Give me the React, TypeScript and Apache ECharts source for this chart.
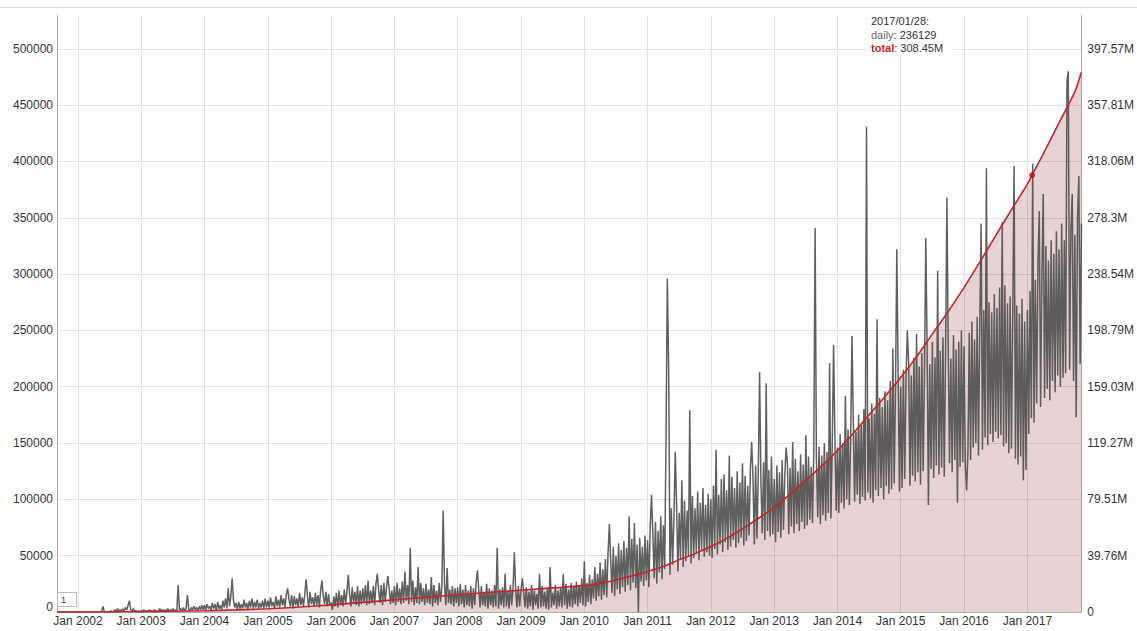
import React, { useEffect, useRef } from "react";
import * as echarts from "echarts";

// ---------- DATA ----------
// Daily downloads, in thousands, ~every 7.6 days (48 readings per year),
// upper / lower readings of the noisy daily band plus the visible spikes.
const daily2001 = [0, 0, 0, 0, 0, 0, 0, 0, 0, 0, 0, 0, 0, 0, 0, 0]; // from Sep 2001
const daily2002 = [0, 0, 0, 0, 0, 0, 0, 0, 0, 0, 0, 0, 0, 0, 0, 0, 0, 0, 1, 5, 0, 0, 0, 0, 0, 1, 0, 0, 2, 0, 3, 1, 2, 1, 3, 1, 4, 2, 6, 10, 2, 1, 3, 1, 1, 0, 1, 0];
const daily2003 = [1, 0, 2, 0, 1, 0, 2, 1, 1, 0, 2, 0, 1, 0, 3, 1, 2, 1, 2, 0, 3, 1, 2, 1, 3, 1, 2, 1, 24, 2, 3, 1, 4, 1, 3, 15, 3, 1, 4, 2, 5, 2, 4, 1, 5, 2, 6, 2];
const daily2004 = [6, 2, 7, 3, 5, 2, 8, 3, 7, 1, 9, 3, 6, 2, 10, 4, 12, 3, 21, 5, 14, 30, 10, 4, 8, 2, 9, 3, 7, 3, 11, 4, 8, 2, 10, 4, 12, 3, 9, 4, 11, 3, 8, 4, 10, 3, 12, 4];
const daily2005 = [10, 4, 13, 5, 9, 3, 14, 5, 11, 4, 15, 6, 12, 4, 16, 21, 11, 5, 15, 3, 14, 6, 12, 4, 17, 6, 13, 5, 16, 29, 14, 4, 18, 7, 13, 5, 17, 6, 15, 4, 19, 28, 14, 7, 18, 5, 16, 6];
const daily2006 = [8, 2, 14, 5, 17, 4, 19, 6, 15, 5, 20, 7, 18, 33, 16, 5, 22, 8, 18, 6, 23, 5, 19, 7, 21, 8, 24, 6, 28, 7, 19, 8, 23, 6, 25, 34, 20, 8, 24, 6, 26, 9, 22, 32, 21, 7, 19, 8];
const daily2007 = [23, 6, 26, 9, 21, 7, 27, 8, 36, 10, 24, 7, 57, 9, 28, 6, 22, 8, 40, 7, 26, 9, 21, 6, 25, 8, 20, 7, 31, 5, 24, 8, 19, 6, 26, 9, 22, 90, 25, 6, 39, 8, 20, 7, 23, 5, 21, 8];
const daily2008 = [22, 5, 25, 7, 20, 4, 24, 6, 19, 5, 23, 3, 21, 6, 26, 37, 20, 4, 23, 6, 18, 5, 25, 3, 21, 6, 19, 4, 24, 5, 57, 3, 20, 6, 22, 4, 34, 5, 19, 3, 24, 6, 21, 53, 20, 4, 23, 5];
const daily2009 = [20, 30, 17, 4, 22, 3, 18, 5, 24, 2, 19, 6, 16, 3, 34, 4, 23, 5, 18, 3, 21, 2, 40, 4, 17, 6, 24, 3, 19, 5, 22, 4, 34, 6, 25, 3, 20, 5, 26, 4, 23, 7, 27, 5, 24, 8, 30, 6];
const daily2010 = [45, 5, 26, 9, 33, 7, 29, 12, 40, 10, 34, 14, 44, 11, 38, 15, 47, 13, 52, 78, 46, 17, 58, 14, 50, 20, 61, 16, 55, 22, 63, 18, 57, 24, 85, 19, 65, 26, 79, 21, 60, 0, 66, 27, 58, 23, 68, 28];
const daily2011 = [64, 22, 75, 104, 70, 30, 80, 25, 72, 35, 85, 29, 77, 38, 155, 296, 216, 33, 92, 42, 84, 142, 95, 36, 88, 47, 117, 40, 99, 45, 90, 50, 179, 43, 103, 48, 92, 52, 107, 46, 97, 55, 110, 49, 95, 53, 105, 50];
const daily2012 = [100, 48, 112, 56, 144, 51, 104, 60, 118, 53, 122, 62, 108, 55, 139, 58, 120, 64, 110, 57, 125, 61, 115, 66, 132, 59, 121, 63, 112, 68, 127, 151, 118, 60, 130, 65, 124, 213, 116, 70, 133, 64, 203, 72, 126, 67, 138, 69];
const daily2013 = [118, 62, 130, 71, 124, 66, 135, 73, 121, 146, 132, 69, 128, 76, 151, 70, 136, 78, 125, 72, 140, 80, 131, 74, 157, 77, 138, 82, 129, 79, 143, 341, 135, 84, 147, 78, 139, 86, 150, 81, 142, 88, 221, 83, 148, 237, 155, 90];
const daily2014 = [146, 88, 158, 97, 150, 92, 192, 100, 162, 95, 155, 245, 170, 98, 160, 104, 175, 96, 166, 102, 180, 99, 431, 106, 172, 101, 185, 97, 176, 108, 260, 103, 190, 110, 182, 100, 196, 112, 188, 105, 205, 109, 234, 114, 198, 322, 210, 107];
const daily2015 = [200, 110, 215, 118, 206, 250, 222, 112, 210, 121, 226, 116, 247, 124, 218, 113, 230, 125, 212, 332, 235, 95, 220, 127, 240, 119, 226, 130, 303, 122, 232, 128, 244, 120, 229, 368, 238, 132, 225, 124, 246, 135, 233, 97, 240, 129, 250, 133];
const daily2016 = [236, 130, 108, 142, 248, 135, 258, 146, 242, 150, 262, 139, 255, 345, 144, 268, 155, 394, 148, 275, 158, 266, 151, 282, 160, 270, 154, 288, 157, 346, 147, 290, 150, 274, 141, 280, 145, 268, 396, 136, 272, 131, 265, 138, 278, 117, 258, 126];
const daily2017 = [268, 158, 285, 172, 398, 168, 295, 185, 310, 356, 182, 300, 371, 190, 325, 198, 312, 188, 330, 205, 318, 195, 338, 210, 322, 200, 345, 208, 330, 212, 471, 480, 215, 340, 371, 205, 335, 173, 350, 387, 220, 345];

// Cumulative total downloads, in millions
const totalDates = [
  "2001-09-02", "2002-01-01", "2002-07-01", "2003-01-01", "2003-07-01", "2004-01-01", "2004-07-01",
  "2005-01-01", "2005-07-01", "2006-01-01", "2006-07-01", "2007-01-01", "2007-07-01", "2008-01-01",
  "2008-07-01", "2009-01-01", "2009-07-01", "2010-01-01", "2010-04-01", "2010-07-01", "2010-10-01",
  "2011-01-01", "2011-04-01", "2011-07-01", "2011-10-01", "2012-01-01", "2012-04-01", "2012-07-01",
  "2012-10-01", "2013-01-01", "2013-04-01", "2013-07-01", "2013-10-01", "2014-01-01", "2014-04-01",
  "2014-07-01", "2014-10-01", "2015-01-01", "2015-04-01", "2015-07-01", "2015-10-01", "2016-01-01",
  "2016-04-01", "2016-07-01", "2016-10-01", "2017-01-01", "2017-01-28", "2017-04-01", "2017-07-01",
  "2017-10-01", "2017-11-08",
];
const totalMillions = [
  0, 0.02, 0.1, 0.3, 0.5, 0.9, 1.5,
  2.3, 3.5, 5.0, 6.8, 8.6, 10.4, 12.2,
  13.8, 15.4, 17.0, 18.6, 20.2, 22.6, 25.4,
  28.6, 32.2, 36.8, 41.2, 46.2, 52.0, 58.8,
  66.0, 74.0, 83.0, 93.0, 103.0, 114.0, 126.0,
  139.0, 152.0, 165.5, 180.0, 196.0, 212.0, 229.0,
  247.0, 265.5, 284.0, 302.0, 308.45, 323.0, 345.0,
  367.0, 381.0,
];

// Highlighted point (legend)
const highlightLabel = "2017/01/28";
const highlightDate = "2017-01-28";
const highlightDaily = 236129;
const highlightTotalM = 308.45;

// Axes
const xMin = "2001-09-02";
const xMax = "2017-11-08";
const leftMax = 530000;
const leftInterval = 50000;
const rightInterval = 39757100;
const rightMax = (leftMax / leftInterval) * rightInterval;

// ---------- BUILD ----------
const DAY = 86400000;
const STEP = (365.25 / 48) * DAY;
const dailyYears: [number, number, number[]][] = [
  [2001, 32, daily2001], [2002, 0, daily2002], [2003, 0, daily2003], [2004, 0, daily2004],
  [2005, 0, daily2005], [2006, 0, daily2006], [2007, 0, daily2007], [2008, 0, daily2008],
  [2009, 0, daily2009], [2010, 0, daily2010], [2011, 0, daily2011], [2012, 0, daily2012],
  [2013, 0, daily2013], [2014, 0, daily2014], [2015, 0, daily2015], [2016, 0, daily2016],
  [2017, 0, daily2017],
];

const ts = (s: string) => {
  const [y, m, d] = s.split("-").map(Number);
  return Date.UTC(y, m - 1, d);
};

function buildDaily() {
  const out: [number, number][] = [];
  for (const [year, offset, vals] of dailyYears) {
    const start = Date.UTC(year, 0, 1);
    vals.forEach((v, i) => out.push([start + (offset + i) * STEP, v * 1000]));
  }
  return out;
}

const FONT = "'Liberation Sans', Arial, Helvetica, sans-serif";

export default function App() {
  const ref = useRef<HTMLDivElement>(null);
  useEffect(() => {
    if (!ref.current) return;
    const chart = echarts.init(ref.current, undefined, { renderer: "svg" });
    const dailyPts = buildDaily();
    const totalPts = totalDates.map((d, i) => [ts(d), totalMillions[i] * 1e6]);

    const option: any = {
      animation: false,
      useUTC: true,
      grid: { left: 57, right: 55, top: 15, bottom: 19, containLabel: false },
      xAxis: {
        type: "time",
        min: ts(xMin),
        max: ts(xMax),
        splitNumber: 16,
        minInterval: 365 * DAY,
        maxInterval: 366 * DAY,
        axisLine: { show: true, lineStyle: { color: "#aaaaaa", width: 1 } },
        axisTick: { show: false },
        splitLine: { show: true, lineStyle: { color: "#e2e2e2", width: 1 } },
        axisLabel: {
          color: "#333",
          fontSize: 12,
          fontFamily: FONT,
          margin: 3,
          hideOverlap: false,
          formatter: (value: number) => {
            const d = new Date(value);
            return d.getUTCMonth() === 0 && d.getUTCDate() === 1 ? "Jan " + d.getUTCFullYear() : "";
          },
        },
      },
      yAxis: [
        {
          type: "value",
          position: "left",
          min: 0,
          max: leftMax,
          interval: leftInterval,
          axisLine: { show: true, lineStyle: { color: "#aaaaaa", width: 1 } },
          axisTick: { show: false },
          splitLine: { show: true, showMaxLine: false, lineStyle: { color: "#e2e2e2", width: 1 } },
          axisLabel: {
            color: "#333",
            fontSize: 12,
            fontFamily: FONT,
            margin: 4,
            formatter: (v: number) => {
              if (v % leftInterval !== 0) return "";
              if (v === 0) return "{z|0}";
              return String(v);
            },
            rich: { z: { color: "#333", fontSize: 12, fontFamily: FONT, padding: [0, 0, 10, 0] } },
          },
        },
        {
          type: "value",
          position: "right",
          min: 0,
          max: rightMax,
          interval: rightInterval,
          axisLine: { show: true, lineStyle: { color: "#aaaaaa", width: 1 } },
          axisTick: { show: false },
          splitLine: { show: false },
          axisLabel: {
            color: "#333",
            fontSize: 12,
            fontFamily: FONT,
            margin: 6,
            formatter: (v: number) => {
              const k = v / rightInterval;
              if (Math.abs(k - Math.round(k)) > 1e-6) return "";
              if (v === 0) return "0";
              return String(Math.round(v / 1e4) / 100) + "M";
            },
          },
        },
      ],
      series: [
        {
          type: "line",
          name: "totalFill",
          yAxisIndex: 1,
          data: totalPts,
          symbol: "none",
          smooth: 0.3,
          lineStyle: { opacity: 0 },
          areaStyle: { color: "rgba(125,20,25,0.27)" },
          z: 1,
          silent: true,
        },
        {
          type: "line",
          name: "daily",
          yAxisIndex: 0,
          data: dailyPts,
          symbol: "none",
          lineStyle: { color: "#4e4e4e", width: 1.5, opacity: 0.9 },
          z: 3,
          silent: true,
        },
        {
          type: "line",
          name: "total",
          yAxisIndex: 1,
          data: totalPts,
          symbol: "none",
          smooth: 0.3,
          lineStyle: { color: "#c0262c", width: 1.6 },
          z: 4,
          silent: true,
        },
        {
          type: "scatter",
          name: "highlight",
          yAxisIndex: 1,
          data: [[ts(highlightDate), highlightTotalM * 1e6]],
          symbolSize: 6,
          itemStyle: { color: "#b0121b" },
          z: 5,
          silent: true,
        },
      ],
      graphic: [
        {
          type: "line",
          shape: { x1: 0, y1: 7.5, x2: 1137, y2: 7.5 },
          style: { stroke: "#dddddd", lineWidth: 1 },
        },
        {
          type: "rect",
          shape: { x: 867, y: 14, width: 86, height: 41 },
          style: { fill: "#ffffff" },
          z: 100,
        },
        {
          type: "text",
          x: 871,
          y: 15,
          z: 101,
          style: { text: highlightLabel + ":", fill: "#333", font: `11px ${FONT}` },
        },
        {
          type: "text",
          x: 871,
          y: 29,
          z: 101,
          style: {
            text: "{d|daily}: " + highlightDaily,
            fill: "#333",
            font: `11px ${FONT}`,
            rich: { d: { fill: "#666", font: `11px ${FONT}` } },
          },
        },
        {
          type: "text",
          x: 871,
          y: 42,
          z: 101,
          style: {
            text: "{t|total}: " + highlightTotalM + "M",
            fill: "#333",
            font: `11px ${FONT}`,
            rich: { t: { fill: "#c0262c", font: `bold 11px ${FONT}` } },
          },
        },
        {
          type: "rect",
          shape: { x: 57.5, y: 592.5, width: 19, height: 14 },
          style: { fill: "#fff", stroke: "#bbbbbb", lineWidth: 1 },
          z: 100,
        },
        {
          type: "text",
          x: 61,
          y: 595,
          z: 101,
          style: { text: "1", fill: "#333", font: `9px ${FONT}` },
        },
      ],
    };
    chart.setOption(option);
    return () => chart.dispose();
  }, []);

  return (
    <div
      ref={ref}
      style={{ position: "fixed", left: 0, top: 0, width: 1137, height: 631, background: "#fff" }}
    />
  );
}
